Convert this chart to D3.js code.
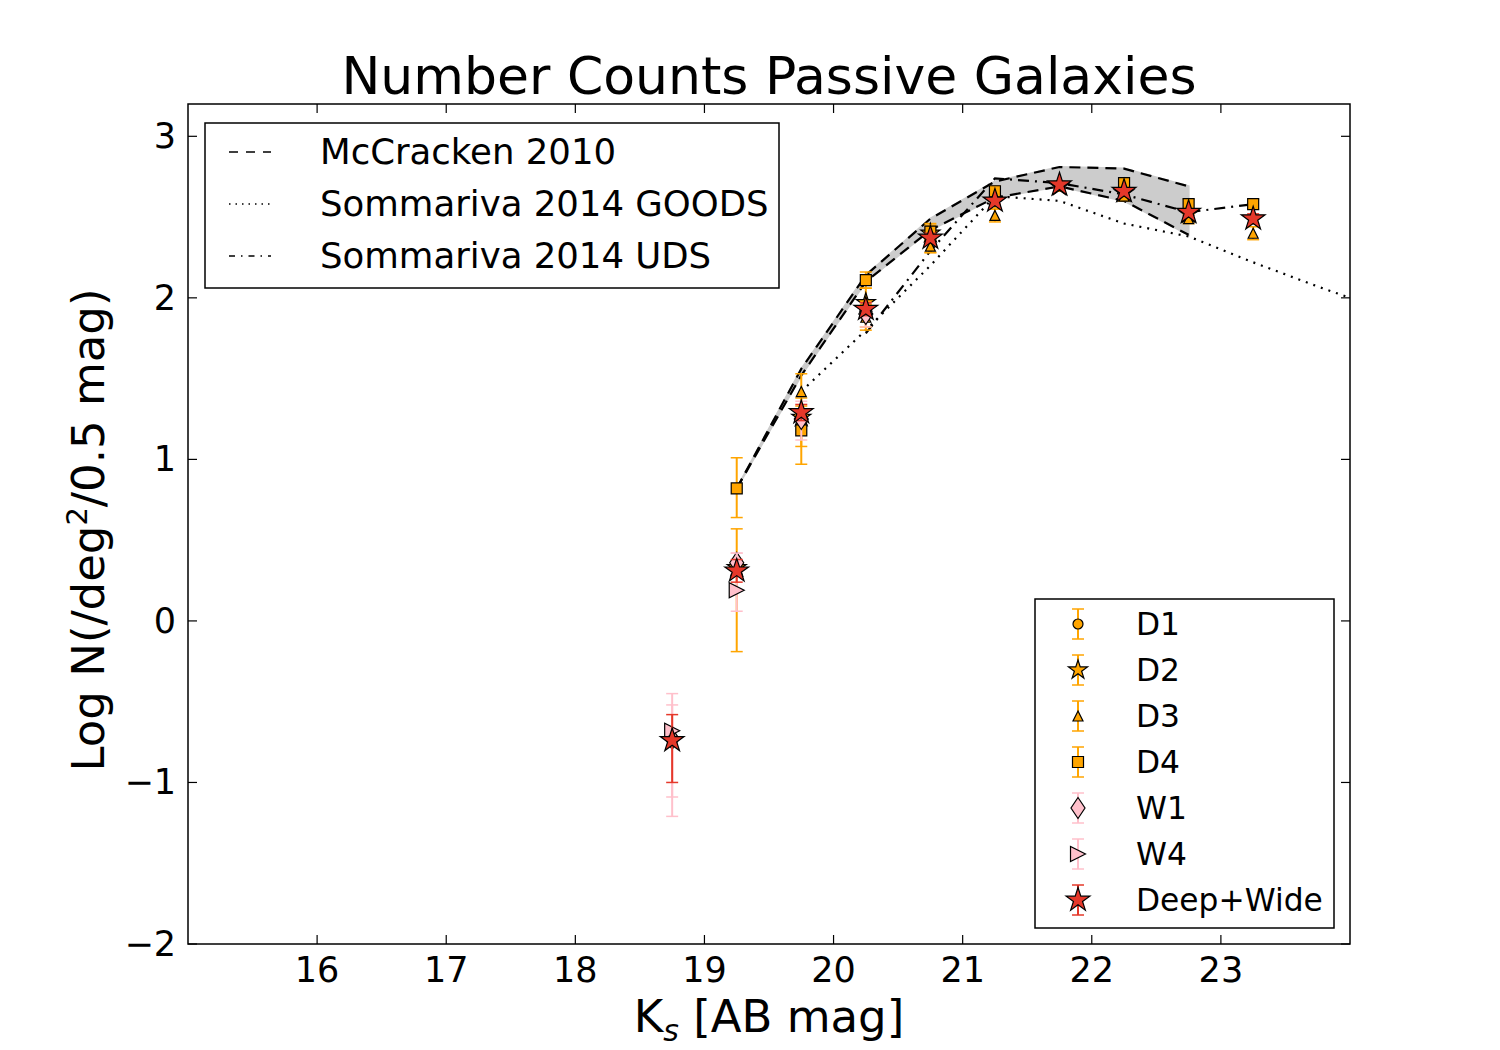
<!DOCTYPE html>
<html><head><meta charset="utf-8">
<script src="https://cdn.jsdelivr.net/npm/d3@7"></script>
<style>body{margin:0;background:#fff;} svg{font-family:"DejaVu Sans",sans-serif;}</style>
</head><body>
<svg id="c" width="1500" height="1050"></svg>
<script>
// ---- data ----
const xTicks = [16,17,18,19,20,21,22,23];
const yTicks = [-2,-1,0,1,2,3];

const mcX = [19.25,19.75,20.25,20.75,21.25,21.75,22.25,22.75];
const mcUpper = [0.82,1.56,2.14,2.49,2.72,2.81,2.80,2.69];
const mcLower = [0.82,1.52,2.10,2.42,2.62,2.69,2.60,2.39];

const goodsX = [19.75,20.25,20.75,21.25,21.75,22.25,22.75,23.25,23.75,24.25];
const goodsY = [1.42,1.80,2.20,2.63,2.60,2.46,2.38,2.22,2.07,1.93];

const udsX = [20.25,20.75,21.25,21.75,22.25,22.75,23.25];
const udsY = [1.78,2.29,2.74,2.71,2.64,2.53,2.58];

const d1X = [], d1Y = [], d1Lo = [], d1Hi = [];
const d2X = [19.25,19.75,20.25,20.75,21.25,21.75,22.25,22.75];
const d2Y = [0.33,1.26,1.97,2.40,2.60,2.69,2.65,2.52];
const d2Lo = [-0.19,1.08,1.82,2.28,2.55,2.66,2.62,2.49];
const d2Hi = [0.57,1.38,2.06,2.46,2.65,2.72,2.68,2.55];
const d3X = [19.75,20.25,20.75,21.25,22.25,22.75,23.25];
const d3Y = [1.42,1.88,2.32,2.51,2.63,2.49,2.40];
const d3Lo = [1.28,1.80,2.28,2.47,2.60,2.46,2.36];
const d3Hi = [1.53,1.96,2.36,2.55,2.66,2.52,2.44];
const d4X = [19.25,19.75,20.25,20.75,21.25,22.25,22.75,23.25];
const d4Y = [0.82,1.18,2.11,2.41,2.66,2.71,2.58,2.58];
const d4Lo = [0.64,0.97,2.06,2.37,2.63,2.68,2.55,2.55];
const d4Hi = [1.01,1.33,2.16,2.45,2.69,2.74,2.61,2.61];
const w1X = [18.75,19.25,19.75,20.25];
const w1Y = [-0.73,0.36,1.25,1.90];
const w1Lo = [-1.09,0.30,1.12,1.82];
const w1Hi = [-0.52,0.42,1.36,1.97];
const w4X = [18.75,19.25];
const w4Y = [-0.68,0.19];
const w4Lo = [-1.21,0.06];
const w4Hi = [-0.45,0.42];
const dwX = [18.75,19.25,19.75,20.25,20.75,21.25,21.75,22.25,22.75,23.25];
const dwY = [-0.74,0.31,1.29,1.93,2.37,2.60,2.70,2.66,2.53,2.49];
const dwLo = [-1.00,0.24,1.24,1.89,2.34,2.58,2.68,2.64,2.51,2.46];
const dwHi = [-0.58,0.38,1.34,1.97,2.40,2.62,2.72,2.68,2.55,2.52];

const lineNames = ["McCracken 2010","Sommariva 2014 GOODS","Sommariva 2014 UDS"];
const seriesNames = ["D1","D2","D3","D4","W1","W4","Deep+Wide"];

// ---- layout ----
const svg = d3.select("#c");
const L = 188, R = 1350, T = 104, B = 944;
const x = d3.scaleLinear().domain([15,24]).range([L,R]);
const y = d3.scaleLinear().domain([-2,3.2]).range([B,T]);
const FS = 35;

const defs = svg.append("defs");
defs.append("clipPath").attr("id","clip").append("rect")
  .attr("x",L).attr("y",T).attr("width",R-L).attr("height",B-T);

function starPath(R){
  const r = R*0.381966; let p=[];
  for(let i=0;i<10;i++){const a=-Math.PI/2+i*Math.PI/5; const rr=i%2?r:R; p.push([rr*Math.cos(a), rr*Math.sin(a)]);}
  return "M"+p.map(q=>q.join(",")).join("L")+"Z";
}
function shape(kind, s){
  switch(kind){
    case "circle": return `M${s},0A${s},${s} 0 1,1 ${-s},0A${s},${s} 0 1,1 ${s},0Z`;
    case "square": return `M${-s},${-s}H${s}V${s}H${-s}Z`;
    case "tri": return `M0,${-s}L${s},${s}L${-s},${s}Z`;
    case "triR": return `M${s},0L${-s},${s}L${-s},${-s}Z`;
    case "dia": return `M0,${-s*1.5}L${s},0L0,${s*1.5}L${-s},0Z`;
    case "star": return starPath(s);
  }
}

const plot = svg.append("g").attr("clip-path","url(#clip)");

const band = mcX.map((v,i)=>({x:v, lo:mcLower[i], hi:mcUpper[i]}));
plot.append("path").datum(band)
  .attr("d", d3.area().x(d=>x(d.x)).y0(d=>y(d.lo)).y1(d=>y(d.hi)))
  .attr("fill","#cccccc").attr("stroke","#cccccc").attr("stroke-width",2);
const lineGen = d3.line().x(d=>x(d[0])).y(d=>y(d[1]));
const dashStyles = {dash:"11,7", dot:"2,6", dashdot:"11,6,2,6"};
plot.append("path").datum(mcX.map((v,i)=>[v,mcUpper[i]])).attr("d",lineGen)
  .attr("fill","none").attr("stroke","#000").attr("stroke-width",2.2).attr("stroke-dasharray",dashStyles.dash);
plot.append("path").datum(mcX.map((v,i)=>[v,mcLower[i]])).attr("d",lineGen)
  .attr("fill","none").attr("stroke","#000").attr("stroke-width",2.2).attr("stroke-dasharray",dashStyles.dash);
plot.append("path").datum(goodsX.map((v,i)=>[v,goodsY[i]])).attr("d",lineGen)
  .attr("fill","none").attr("stroke","#000").attr("stroke-width",2.2).attr("stroke-dasharray",dashStyles.dot);
plot.append("path").datum(udsX.map((v,i)=>[v,udsY[i]])).attr("d",lineGen)
  .attr("fill","none").attr("stroke","#000").attr("stroke-width",2.2).attr("stroke-dasharray",dashStyles.dashdot);

const series = [
  {name:"D1", X:d1X, Y:d1Y, Lo:d1Lo, Hi:d1Hi, kind:"circle", s:5, fill:"#FFA500", ecol:"#FFA500"},
  {name:"D2", X:d2X, Y:d2Y, Lo:d2Lo, Hi:d2Hi, kind:"star", s:10, fill:"#FFA500", ecol:"#FFA500"},
  {name:"D3", X:d3X, Y:d3Y, Lo:d3Lo, Hi:d3Hi, kind:"tri", s:5, fill:"#FFA500", ecol:"#FFA500"},
  {name:"D4", X:d4X, Y:d4Y, Lo:d4Lo, Hi:d4Hi, kind:"square", s:5.5, fill:"#FFA500", ecol:"#FFA500"},
  {name:"W1", X:w1X, Y:w1Y, Lo:w1Lo, Hi:w1Hi, kind:"dia", s:7, fill:"#FFC0CB", ecol:"#FFC0CB"},
  {name:"W4", X:w4X, Y:w4Y, Lo:w4Lo, Hi:w4Hi, kind:"triR", s:7.5, fill:"#FFC0CB", ecol:"#FFC0CB"},
  {name:"Deep+Wide", X:dwX, Y:dwY, Lo:dwLo, Hi:dwHi, kind:"star", s:12.5, fill:"#E5382A", ecol:"#E5382A"}
];
const cap = 6;
series.forEach(sr=>{
  const g = plot.append("g");
  const pts = sr.X.map((v,i)=>({x:v,y:sr.Y[i],lo:sr.Lo[i],hi:sr.Hi[i]}));
  g.selectAll("line.e").data(pts).join("line")
    .attr("x1",d=>x(d.x)).attr("x2",d=>x(d.x)).attr("y1",d=>y(d.lo)).attr("y2",d=>y(d.hi))
    .attr("stroke",sr.ecol).attr("stroke-width",2);
  ["lo","hi"].forEach(k=>{
    g.selectAll("line.c"+k).data(pts).join("line")
      .attr("x1",d=>x(d.x)-cap).attr("x2",d=>x(d.x)+cap).attr("y1",d=>y(d[k])).attr("y2",d=>y(d[k]))
      .attr("stroke",sr.ecol).attr("stroke-width",1.5);
  });
  g.selectAll("path").data(pts).join("path")
    .attr("transform",d=>`translate(${x(d.x)},${y(d.y)})`)
    .attr("d",shape(sr.kind,sr.s)).attr("fill",sr.fill).attr("stroke","#000").attr("stroke-width",1.2);
});

svg.append("rect").attr("x",L).attr("y",T).attr("width",R-L).attr("height",B-T)
  .attr("fill","none").attr("stroke","#000").attr("stroke-width",1.5);
const fmt = d=> (d<0?"\u2212"+Math.abs(d):String(d));
const tl = 9;
const ax = svg.append("g");
xTicks.forEach(t=>{
  ax.append("line").attr("x1",x(t)).attr("x2",x(t)).attr("y1",B).attr("y2",B-tl).attr("stroke","#000").attr("stroke-width",1.2);
  ax.append("line").attr("x1",x(t)).attr("x2",x(t)).attr("y1",T).attr("y2",T+tl).attr("stroke","#000").attr("stroke-width",1.2);
  ax.append("text").attr("x",x(t)).attr("y",B+38).attr("text-anchor","middle").attr("font-size",FS).text(fmt(t));
});
yTicks.forEach(t=>{
  ax.append("line").attr("x1",L).attr("x2",L+tl).attr("y1",y(t)).attr("y2",y(t)).attr("stroke","#000").attr("stroke-width",1.2);
  ax.append("line").attr("x1",R).attr("x2",R-tl).attr("y1",y(t)).attr("y2",y(t)).attr("stroke","#000").attr("stroke-width",1.2);
  ax.append("text").attr("x",L-12).attr("y",y(t)+12).attr("text-anchor","end").attr("font-size",FS).text(fmt(t));
});

svg.append("text").attr("x",769).attr("y",94).attr("text-anchor","middle").attr("font-size",52).text("Number Counts Passive Galaxies");
const xl = svg.append("text").attr("x",769).attr("y",1032).attr("text-anchor","middle").attr("font-size",45);
xl.append("tspan").text("K");
xl.append("tspan").attr("font-size",30).attr("font-style","italic").attr("dy",9).text("s");
xl.append("tspan").attr("dy",-9).text(" [AB mag]");
const yl = svg.append("text").attr("transform","translate(104,530) rotate(-90)").attr("text-anchor","middle").attr("font-size",45);
yl.append("tspan").text("Log N(/deg");
yl.append("tspan").attr("font-size",29).attr("dy",-17).text("2");
yl.append("tspan").attr("dy",17).text("/0.5 mag)");

const lg1 = svg.append("g");
lg1.append("rect").attr("x",205).attr("y",123).attr("width",574).attr("height",165).attr("fill","#fff").attr("stroke","#000").attr("stroke-width",1.5);
lineNames.forEach((n,i)=>{
  const yy = 152 + i*52;
  lg1.append("line").attr("x1",229).attr("x2",271).attr("y1",yy).attr("y2",yy)
    .attr("stroke","#000").attr("stroke-width",1.5).attr("stroke-dasharray",i==0?"9,8":(i==1?"1.5,5":"6,6,1.5,6"));
  lg1.append("text").attr("x",320).attr("y",yy+12).attr("font-size",35.5).text(n);
});

const lg2 = svg.append("g");
lg2.append("rect").attr("x",1035).attr("y",599).attr("width",299).attr("height",329).attr("fill","#fff").attr("stroke","#000").attr("stroke-width",1.5);
series.forEach((sr,i)=>{
  const yy = 624 + i*46, xx = 1078;
  lg2.append("line").attr("x1",xx).attr("x2",xx).attr("y1",yy-15).attr("y2",yy+15).attr("stroke",sr.ecol).attr("stroke-width",2);
  [yy-15,yy+15].forEach(cy=>lg2.append("line").attr("x1",xx-6).attr("x2",xx+6).attr("y1",cy).attr("y2",cy).attr("stroke",sr.ecol).attr("stroke-width",1.5));
  lg2.append("path").attr("transform",`translate(${xx},${yy})`).attr("d",shape(sr.kind,sr.s)).attr("fill",sr.fill).attr("stroke","#000").attr("stroke-width",1.2);
  lg2.append("text").attr("x",1136).attr("y",yy+11).attr("font-size",31.3).text(sr.name);
});
</script>
</body></html>
